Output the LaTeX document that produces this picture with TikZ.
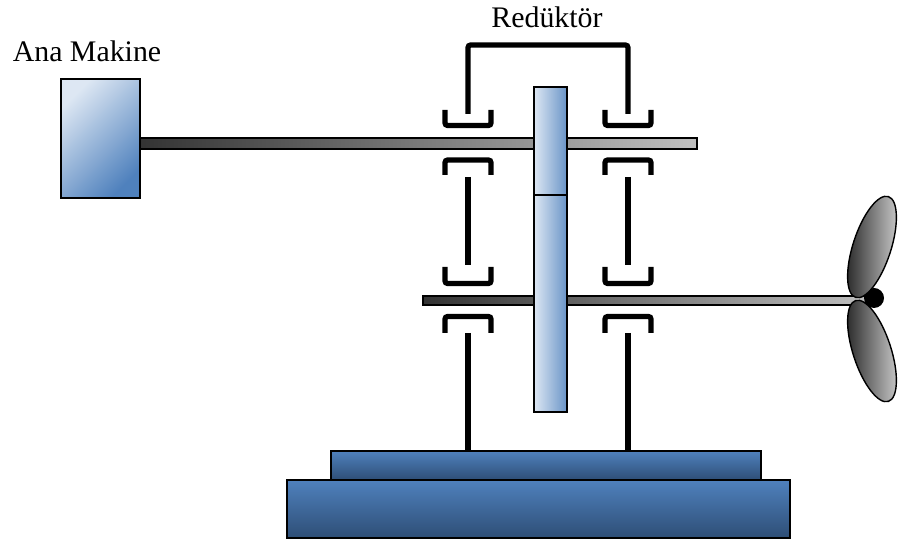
\documentclass[tikz,border=0pt]{standalone}
\usepackage{fontspec}
\setmainfont{Liberation Serif}

\definecolor{paleblue}{RGB}{221,231,243}
\definecolor{officeblue}{RGB}{79,129,189}
\definecolor{deepblue}{RGB}{46,78,118}

\begin{document}
\begin{tikzpicture}[x=0.02cm, y=0.02cm,
  brg/.style={line width=3pt, rounded corners=1.5pt},
  shaft/.style={draw=black, line width=0.8pt, left color=black!80, right color=black!25},
  plate/.style={draw=black, line width=1pt, top color=officeblue, bottom color=deepblue},
  bluebox/.style={draw=black, line width=1pt, top color=paleblue, bottom color=officeblue},
  gearbox/.style={draw=black, line width=1pt, left color=paleblue, right color=officeblue!85},
  blade/.style={draw=black, line width=0.8pt, left color=black!85, right color=black!20},
  lbl/.style={anchor=base, font=\fontsize{17}{20}\selectfont}]

\useasboundingbox (0,0) rectangle (903,540);

\node[lbl] (engtxt) at (87,478) {Ana Makine};
\node[lbl] (redtxt) at (547,512) {Redüktör};

% housing frame of the gearbox
\draw[brg] (468,426) -- (468,495) -- (628,495) -- (628,426);

% bearing posts and bearings
\foreach \x in {468,628} {
  \draw[brg] (\x,363) -- (\x,275);
  \draw[brg] (\x,207) -- (\x,89);
  \draw[brg] (\x-23,430) -- (\x-23,414.5) -- (\x+23,414.5) -- (\x+23,430);
  \draw[brg] (\x-23,365) -- (\x-23,380) -- (\x+23,380) -- (\x+23,365);
  \draw[brg] (\x-23,273) -- (\x-23,256.5) -- (\x+23,256.5) -- (\x+23,273);
  \draw[brg] (\x-23,207) -- (\x-23,223.5) -- (\x+23,223.5) -- (\x+23,207);
}

% shafts
\draw[shaft] (140,391) rectangle (697,402);
\draw[shaft] (423,235) rectangle (866,244);

% engine
\draw[bluebox, shading angle=45] (61,342) rectangle (140,461);

% gear wheels
\draw[gearbox] (534,345) rectangle (567,453);
\draw[gearbox] (534,128) rectangle (567,345);

% foundation
\draw[plate] (331,60) rectangle (761,89);
\draw[plate] (287,2) rectangle (790,60);

% propeller
\fill (874,242) circle [radius=10];
\draw[blade, rotate around={72:(872,293)}] (872,293) ellipse [x radius=53, y radius=19];
\draw[blade, rotate around={-72:(872,189)}] (872,189) ellipse [x radius=53, y radius=19];

\end{tikzpicture}
\end{document}
